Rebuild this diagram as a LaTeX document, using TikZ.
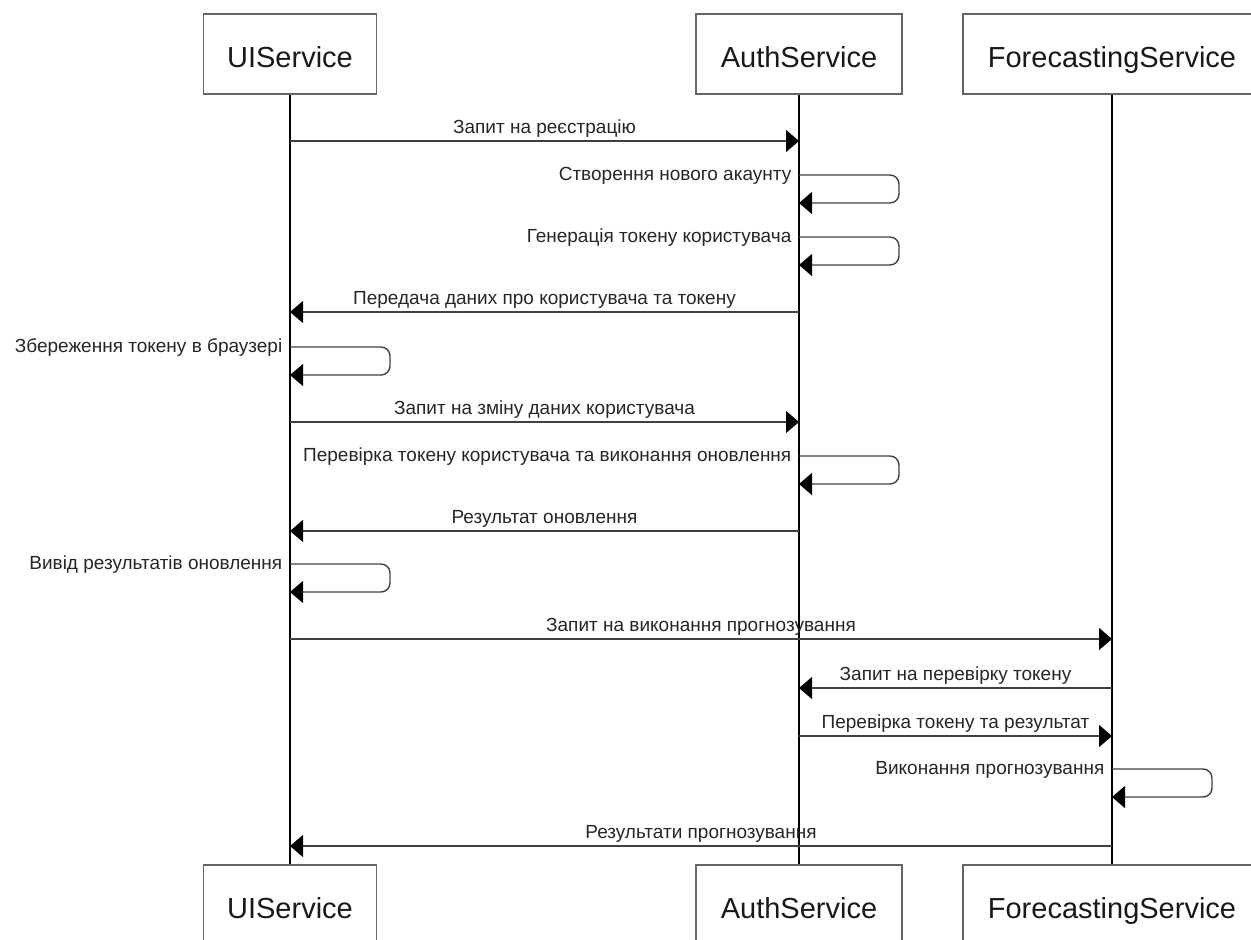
\documentclass[tikz,border=0pt]{standalone}
\usepackage{fontspec}
\setmainfont{Liberation Sans}
\usetikzlibrary{arrows.meta}

% message between two lifelines: name, from, to, y, text
\newcommand\callmsg[5]{%
  \draw[msg] (#2.south |- 0,#4) -- node[lbl, anchor=base, yshift=8pt] (#1) {#5} (#3.south |- 0,#4);}
% message from a lifeline to itself: name, lifeline, top y, bottom y, text
\newcommand\selfmsg[5]{%
  \draw[msg, rounded corners=9pt] (#2.south |- 0,#3)
    node[lbl, anchor=base east, xshift=-7pt, yshift=-5.5pt] (#1) {#5}
    -- ++(100,0) -- ++(0,28) -- (#2.south |- 0,#4);}

\begin{document}
\begin{tikzpicture}[x=1pt, y=-1pt,
  actor/.style={draw=black!60, line width=1.3pt, minimum height=80pt, inner sep=0pt,
    text height=26pt, text depth=0pt,
    font=\fontsize{29}{34}\selectfont, text=black!90},
  life/.style={line width=1.2pt, draw=black},
  msg/.style={line width=1.4pt, draw=black!75,
    -{Triangle[length=13pt, width=22pt, fill=black, color=black]}},
  lbl/.style={font=\fontsize{19}{22}\selectfont, text=black!85, inner sep=0pt},
]
\useasboundingbox (0,0) rectangle (1251,940);

% participants, top and bottom
\node[actor, minimum width=173pt] (uiT) at (290,54) {UIService};
\node[actor, minimum width=206pt] (auT) at (799,54) {AuthService};
\node[actor, minimum width=298pt] (fcT) at (1112,54) {ForecastingService};
\node[actor, minimum width=173pt] (uiB) at (290,905) {UIService};
\node[actor, minimum width=206pt] (auB) at (799,905) {AuthService};
\node[actor, minimum width=298pt] (fcB) at (1112,905) {ForecastingService};

% lifelines
\draw[life] (uiT) -- (uiB);
\draw[life] (auT) -- (auB);
\draw[life] (fcT) -- (fcB);

% messages
\callmsg{m1}{uiT}{auT}{141}{Запит на реєстрацію}
\selfmsg{m2}{auT}{175}{203}{Створення нового акаунту}
\selfmsg{m3}{auT}{237}{265}{Генерація токену користувача}
\callmsg{m4}{auT}{uiT}{312}{Передача даних про користувача та токену}
\selfmsg{m5}{uiT}{347}{375}{Збереження токену в браузері}
\callmsg{m6}{uiT}{auT}{422}{Запит на зміну даних користувача}
\selfmsg{m7}{auT}{456}{484}{Перевірка токену користувача та виконання оновлення}
\callmsg{m8}{auT}{uiT}{531}{Результат оновлення}
\selfmsg{m9}{uiT}{564}{592}{Вивід результатів оновлення}
\callmsg{m10}{uiT}{fcT}{639}{Запит на виконання прогнозування}
\callmsg{m11}{fcT}{auT}{688}{Запит на перевірку токену}
\callmsg{m12}{auT}{fcT}{736}{Перевірка токену та результат}
\selfmsg{m13}{fcT}{769}{797}{Виконання прогнозування}
\callmsg{m14}{fcT}{uiT}{846}{Результати прогнозування}
\end{tikzpicture}
\end{document}
